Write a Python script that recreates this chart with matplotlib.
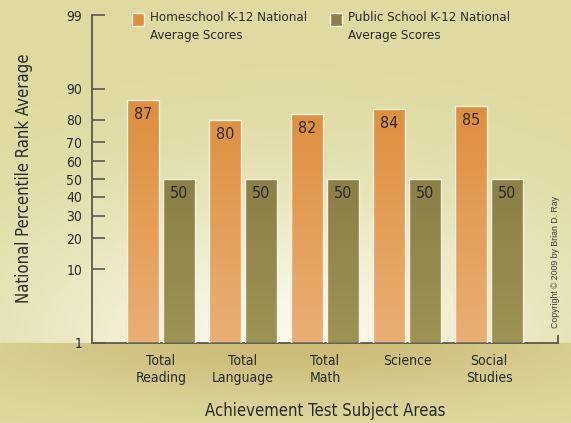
import numpy as np
import matplotlib
matplotlib.use("Agg")
import matplotlib.pyplot as plt
from matplotlib.patches import Rectangle
from matplotlib.lines import Line2D
from statistics import NormalDist

# ---------------- data ----------------
categories = ["Total\nReading", "Total\nLanguage", "Total\nMath", "Science", "Social\nStudies"]
homeschool = [87, 80, 82, 84, 85]
public = [50, 50, 50, 50, 50]
yticks = [1, 10, 20, 30, 40, 50, 60, 70, 80, 90, 99]
series_names = ["Homeschool K-12 National\nAverage Scores", "Public School K-12 National\nAverage Scores"]

# ---------------- probit scale ----------------
_nd = NormalDist()
_fwd = np.vectorize(lambda p: _nd.inv_cdf(min(max(p / 100.0, 1e-9), 1 - 1e-9)), otypes=[float])
_inv = np.vectorize(lambda z: _nd.cdf(z) * 100.0, otypes=[float])

def forward(p):
    return _fwd(np.asarray(p, dtype=float))

def inverse(z):
    return _inv(np.asarray(z, dtype=float))

W, H = 571, 423
fig = plt.figure(figsize=(W / 100, H / 100), dpi=100)
font = ["DejaVu Sans"]
STR = "condensed"
txtc = "#2a2a26"

# ---------------- background ----------------
bg_ax = fig.add_axes([0, 0, 1, 1], zorder=-10)
bg_ax.set_axis_off()
yy, xx = np.mgrid[0:H, 0:W].astype(float)
base = np.array([222, 218, 160], float)
img = np.ones((H, W, 3)) * base
glow = 0.95 * np.exp(-((xx - 290) / 270) ** 2 - ((yy - 343) / 150) ** 2)
glow[yy >= 343] = 0
light = np.array([252, 250, 240], float)
img = img * (1 - glow[..., None]) + light * glow[..., None]
dark = np.array([205, 188, 120], float)
sh = np.exp(-((xx - 290) / 300) ** 2) * np.exp(-((yy - 343) / 55) ** 2)
sh[yy < 343] = 0
img = img * (1 - sh[..., None]) + dark * sh[..., None]
bg_ax.imshow(img.astype(np.uint8), extent=[0, 1, 0, 1], aspect="auto")

# ---------------- main axes ----------------
left, right, top, bottom = 92, 558, 15, 343
ax = fig.add_axes([left / W, 1 - bottom / H, (right - left) / W, (bottom - top) / H])
ax.set_facecolor("none")
ax.set_yscale("function", functions=(forward, inverse))

x = np.arange(len(categories))
bw = 0.39
off = 0.22

def grad(c_bot, c_top, t_top):
    t = np.linspace(0, 1, 400)
    f = np.clip(t / t_top, 0, 1)
    c = np.array(c_bot) * (1 - f[:, None]) + np.array(c_top) * f[:, None]
    return (c[:, None, :] / 255.0)

g_home = grad((233, 175, 116), (222, 141, 58), 0.76)
g_pub = grad((157, 147, 83), (138, 128, 72), 0.5)

bars_h = ax.bar(x - off, np.array(homeschool) - 1, bottom=1, width=bw,
                facecolor="none", edgecolor="#f8f2e2", linewidth=1.0, zorder=3)
bars_p = ax.bar(x + off, np.array(public) - 1, bottom=1, width=bw,
                facecolor="none", edgecolor="#f4f0dc", linewidth=1.0, zorder=3)

for bars, g in ((bars_h, g_home), (bars_p, g_pub)):
    for b in bars:
        im = ax.imshow(g, extent=[0, 1, 0, 1], transform=ax.transAxes,
                       aspect="auto", origin="lower", zorder=2)
        im.set_clip_path(b)

for xs, vals in ((x - off, homeschool), (x + off, public)):
    for xi, v in zip(xs, vals):
        ax.annotate(str(v), (xi, v), xytext=(0, -5), textcoords="offset points",
                    ha="center", va="top", fontsize=11.5, family=font, stretch=STR,
                    color=txtc, zorder=4)

ax.set_autoscale_on(False)
ax.set_xlim(-0.841, 4.841)
ax.set_ylim(1, 99)

ax.set_yticks(yticks)
ax.set_yticklabels([str(t) for t in yticks])
ax.set_xticks(x)
ax.set_xticklabels(categories)
ax.minorticks_off()
ax.tick_params(axis="y", direction="in", length=9, width=1.2, color="#5a5850",
               pad=7, labelsize=10, labelcolor=txtc)
ax.tick_params(axis="x", length=0, pad=8, labelsize=10, labelcolor=txtc)
for lab in ax.get_xticklabels() + ax.get_yticklabels():
    lab.set_family(font)
    lab.set_stretch(STR)
for lab in ax.get_xticklabels():
    lab.set_linespacing(1.3)

for s in ("top", "right"):
    ax.spines[s].set_visible(False)
for s in ("left", "bottom"):
    ax.spines[s].set_color("#5a5850")
    ax.spines[s].set_linewidth(1.3)
ax.add_line(Line2D([1, 1], [0, 0.022], transform=ax.transAxes, color="#5a5850",
                   lw=1.3, clip_on=False))

# ---------------- texts ----------------
fig.text(24 / W, 1 - 178 / H, "National Percentile Rank Average", rotation=90,
         ha="center", va="center", fontsize=12, family=font, stretch=STR, color=txtc)
fig.text(325 / W, 1 - 411 / H, "Achievement Test Subject Areas",
         ha="center", va="center", fontsize=12, family=font, stretch=STR, color=txtc)
fig.text(556 / W, 1 - 262 / H, "Copyright \u00a9 2009 by Brian D. Ray", rotation=90,
         ha="center", va="center", fontsize=6.3, family=["Liberation Sans", "DejaVu Sans"],
         color="#3a3a34")

# ---------------- legend ----------------
leg = [(132, series_names[0], "#df8f3c"), (330, series_names[1], "#8a7f4a")]
for lx, name, col in leg:
    fig.patches.append(Rectangle((lx / W, 1 - 26 / H), 12 / W, 13 / H, transform=fig.transFigure,
                                 facecolor=col, edgecolor="#f8f2e2", linewidth=1.0))
    fig.text((lx + 18) / W, 1 - 11 / H, name, ha="left", va="top", fontsize=9.5,
             family=font, stretch=STR, color=txtc, linespacing=1.45)

fig.savefig("out.png", dpi=100)
